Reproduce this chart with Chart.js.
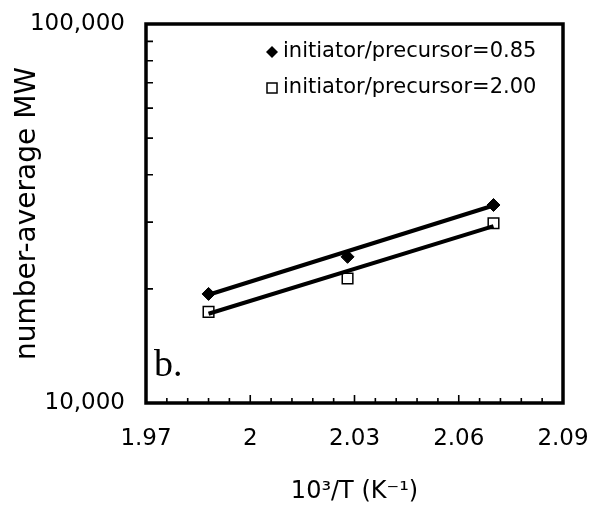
<!DOCTYPE html>
<html>
<head>
<meta charset="utf-8">
<script src="https://cdn.jsdelivr.net/npm/chart.js@4.4.1/dist/chart.umd.min.js"></script>
<style>
  html, body { margin: 0; padding: 0; background: #fff; }
  canvas { display: block; }
</style>
</head>
<body>
<canvas id="c" width="595" height="514"></canvas>
<script>
// ---- data ----
const xValues = [1.988, 2.028, 2.070];            // 10^3/T (K^-1)
const mwRatio085 = [19400, 24300, 33300];          // initiator/precursor=0.85
const mwRatio200 = [17400, 21300, 29800];          // initiator/precursor=2.00
const fitX = [1.988, 2.070];                       // trend line ends
const fit085 = [19300, 33200];
const fit200 = [17200, 29300];
const seriesLabels = ['initiator/precursor=0.85', 'initiator/precursor=2.00'];

const xTicks = [1.97, 2.0, 2.03, 2.06, 2.09];
const xTickLabels = ['1.97', '2', '2.03', '2.06', '2.09'];
const xMinorTicks = [1.976, 1.982, 1.988, 1.994, 2.006, 2.012, 2.018, 2.024,
                     2.036, 2.042, 2.048, 2.054, 2.066, 2.072, 2.078, 2.084];
const yTicks = [10000, 100000];
const yTickLabels = ['10,000', '100,000'];
const yMinorTicks = [20000, 30000, 40000, 50000, 60000, 70000, 80000, 90000];

const xTitle = '10\u00B3/T (K\u207B\u00B9)';
const yTitle = 'number-average MW';
const panelLabel = 'b.';

const FONT = 'DejaVu Sans';

const toPts = (xs, ys) => xs.map((x, i) => ({ x: x, y: ys[i] }));
const noPad = s => { s.paddingLeft = 0; s.paddingRight = 0; s.paddingTop = 0; s.paddingBottom = 0; };

const framePlugin = {
  id: 'frame',
  afterDatasetsDraw(chart) {
    const ctx = chart.ctx;
    const { left, right, top, bottom } = chart.chartArea;
    const xs = chart.scales.x, ys = chart.scales.y;
    ctx.save();
    ctx.strokeStyle = '#000';
    ctx.lineWidth = 1.6;
    ctx.beginPath();
    xTicks.forEach(v => {
      const px = xs.getPixelForValue(v);
      ctx.moveTo(px, bottom); ctx.lineTo(px, bottom - 8);
    });
    xMinorTicks.forEach(v => {
      const px = xs.getPixelForValue(v);
      ctx.moveTo(px, bottom); ctx.lineTo(px, bottom - 5);
    });
    yMinorTicks.forEach(v => {
      const py = ys.getPixelForValue(v);
      ctx.moveTo(left, py); ctx.lineTo(left + 7, py);
    });
    ctx.stroke();

    // box
    ctx.lineWidth = 3.5;
    ctx.strokeRect(left, top, right - left, bottom - top);

    // legend
    const lx = 272, ly1 = 52, ly2 = 88;
    ctx.fillStyle = '#000';
    ctx.beginPath();
    ctx.moveTo(lx, ly1 - 6); ctx.lineTo(lx + 6, ly1); ctx.lineTo(lx, ly1 + 6); ctx.lineTo(lx - 6, ly1);
    ctx.closePath();
    ctx.fill();
    ctx.fillStyle = '#fff';
    ctx.fillRect(lx - 5, ly2 - 5, 10, 10);
    ctx.lineWidth = 1.5;
    ctx.strokeRect(lx - 5, ly2 - 5, 10, 10);
    ctx.fillStyle = '#000';
    ctx.font = '21px "' + FONT + '"';
    ctx.textBaseline = 'middle';
    ctx.textAlign = 'left';
    ctx.fillText(seriesLabels[0], 283, ly1);
    ctx.fillText(seriesLabels[1], 283, ly2);

    // panel label
    ctx.font = '38px "Liberation Serif"';
    ctx.textBaseline = 'alphabetic';
    ctx.fillText(panelLabel, 154, 376);
    ctx.restore();
  }
};

new Chart(document.getElementById('c'), {
  type: 'scatter',
  data: {
    datasets: [
      { label: 'fit 0.85', data: toPts(fitX, fit085), showLine: true, pointRadius: 0,
        borderColor: '#000', borderWidth: 4, fill: false },
      { label: 'fit 2.00', data: toPts(fitX, fit200), showLine: true, pointRadius: 0,
        borderColor: '#000', borderWidth: 4, fill: false },
      { label: seriesLabels[0], data: toPts(xValues, mwRatio085), showLine: false,
        pointStyle: 'rectRot', pointRadius: 6.5, backgroundColor: '#000', borderColor: '#000', borderWidth: 1 },
      { label: seriesLabels[1], data: toPts(xValues, mwRatio200), showLine: false,
        pointStyle: 'rect', pointRadius: 7.5, backgroundColor: '#fff', borderColor: '#000', borderWidth: 1.5 }
    ]
  },
  options: {
    responsive: false,
    animation: false,
    layout: { padding: { top: 24, right: 32, left: 0, bottom: 0 } },
    plugins: { legend: { display: false }, tooltip: { enabled: false } },
    scales: {
      x: {
        type: 'linear', min: 1.97, max: 2.09,
        afterBuildTicks: s => { s.ticks = xTicks.map(v => ({ value: v })); },
        afterFit: s => { s.height = 111; noPad(s); },
        grid: { display: false, drawTicks: false },
        border: { display: false },
        ticks: {
          autoSkip: false, maxRotation: 0, color: '#000', padding: 22,
          font: { family: FONT, size: 23 },
          callback: (v, i) => xTickLabels[i]
        },
        title: { display: true, text: xTitle, color: '#000',
                 font: { family: FONT, size: 24 }, padding: { top: 0, bottom: 8 } }
      },
      y: {
        type: 'logarithmic', min: 10000, max: 100000,
        afterBuildTicks: s => { s.ticks = yTicks.map(v => ({ value: v })); },
        afterFit: s => { s.width = 146; noPad(s); },
        grid: { display: false, drawTicks: false },
        border: { display: false },
        ticks: {
          autoSkip: false, color: '#000', padding: 21,
          font: { family: FONT, size: 23 },
          callback: (v, i) => yTickLabels[i]
        },
        title: { display: true, text: yTitle, color: '#000',
                 font: { family: FONT, size: 28 }, padding: { top: 11, bottom: 0 } }
      }
    }
  },
  plugins: [framePlugin]
});
</script>
</body>
</html>
